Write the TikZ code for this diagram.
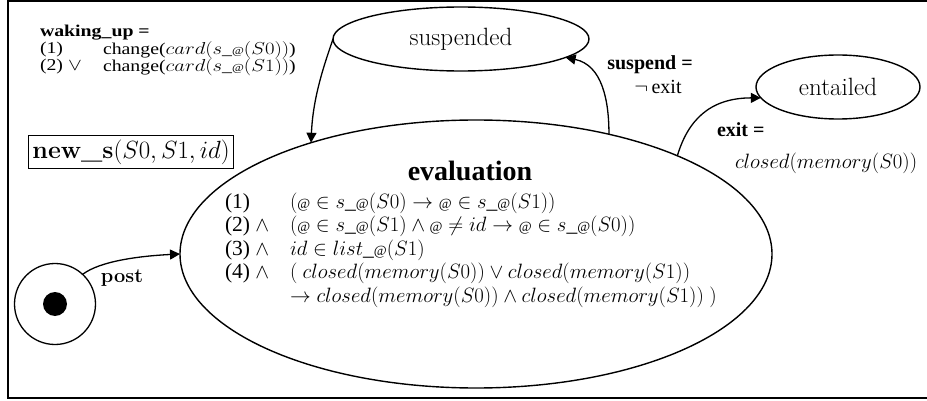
\documentclass[tikz,border=0pt]{standalone}
\usepackage{fontspec}
\newfontfamily\tms{Liberation Serif}
\usetikzlibrary{arrows.meta,shapes.geometric}
\newcommand\atsym{\mbox{\scalebox{0.65}{@}}}
\newcommand\wide[1]{\scalebox{1.2}[1]{#1}}
\begin{document}
\begin{tikzpicture}[x=1pt,y=-1pt,
  every node/.style={inner sep=0pt, outer sep=0pt},
  st/.style={draw, ellipse, line width=1.4pt},
  arr/.style={line width=1.3pt, -{Triangle[length=10pt,width=10pt]}},
  tb/.style={font=\fontsize{20}{22}\selectfont\tms\bfseries},
  tr/.style={font=\fontsize{20}{22}\selectfont\tms},
  wb/.style={font=\fontsize{16.5}{18}\selectfont\tms\bfseries},
  wr/.style={font=\fontsize{16.5}{18}\selectfont\tms},
  ln/.style={anchor=base west, font=\fontsize{21.5}{23}\selectfont\tms},
  big/.style={font=\fontsize{25}{28}\selectfont},
]
\useasboundingbox (0,0) rectangle (927,401);
\fill[white] (0,0) rectangle (927,401);
\draw[line width=2pt] (927,1.5) -- (8,1.5) -- (8,397.5) -- (927,397.5);

% states
\node[st, big, minimum width=256pt, minimum height=64pt] (susp) at (461,39) {suspended};
\node[st, big, minimum width=164pt, minimum height=64pt] (ent) at (838,87) {entailed};
\node[st, minimum width=592pt, minimum height=268pt] (eval) at (476,254) {};
\node[draw, circle, line width=1.3pt, minimum size=81pt] (init) at (55,304) {};
\node[circle, fill, minimum size=24pt] (dot) at (init.center) {};

% connectors
\draw[arr] (init.47) .. controls (100,261) and (140,256) .. (eval.west);
\draw[arr] (susp.west) .. controls (326,60) and (313,95) .. (eval.146);
\draw[arr] (eval.42) .. controls (609,100) and (602,65) .. (susp.-10);
\draw[arr] (eval.26) .. controls (688,120) and (710,98) .. (ent.188);

% labels
\node[font=\fontsize{20}{24}\selectfont\bfseries] (post) at (122,278) {post};
\node[wb, anchor=west] (wk) at (40,33) {\wide{waking\_up =}};
\node[wr, anchor=west] (w1l) at (40,50) {\wide{(1)}};
\node[wr, anchor=west] (w1) at (103,50) {\wide{change($card(s\_\atsym(S0))$)}};
\node[wr, anchor=west] (w2l) at (40,67) {\wide{(2) $\vee$}};
\node[wr, anchor=west] (w2) at (103,67) {\wide{change($card(s\_\atsym(S1))$)}};

\node[tb] (spl) at (650,65) {suspend =};
\node[tr] (spv) at (658,87) {$\neg$\,exit};
\node[tb, anchor=west] (exl) at (717,130) {exit =};
\node[tr, anchor=west] (exv) at (735,163) {$closed(memory(S0))$};

\node[draw, line width=1.2pt, inner sep=4pt, big] (news) at (131,152) {\textbf{new\_s}$(S0,S1,id)$};

% evaluation contents
\node[font=\fontsize{28}{30}\selectfont\tms\bfseries] (evt) at (470,171) {evaluation};
\node[ln] (l1) at (225,208) {(1)};
\node[ln] (f1) at (290,208) {$(\atsym\in s\_\atsym(S0)\rightarrow \atsym\in s\_\atsym(S1))$};
\node[ln] (l2) at (225,231.5) {(2) $\wedge$};
\node[ln] (f2) at (290,231.5) {$(\atsym\in s\_\atsym(S1)\wedge \atsym\neq id\rightarrow \atsym\in s\_\atsym(S0))$};
\node[ln] (l3) at (225,255) {(3) $\wedge$};
\node[ln] (f3) at (290,255) {$id\in list\_\atsym(S1)$};
\node[ln] (l4) at (225,278.5) {(4) $\wedge$};
\node[ln] (f4) at (290,278.5) {$(\ closed(memory(S0))\vee closed(memory(S1))$};
\node[ln] (f5) at (290,302) {$\rightarrow closed(memory(S0))\wedge closed(memory(S1))\ )$};
\end{tikzpicture}
\end{document}
